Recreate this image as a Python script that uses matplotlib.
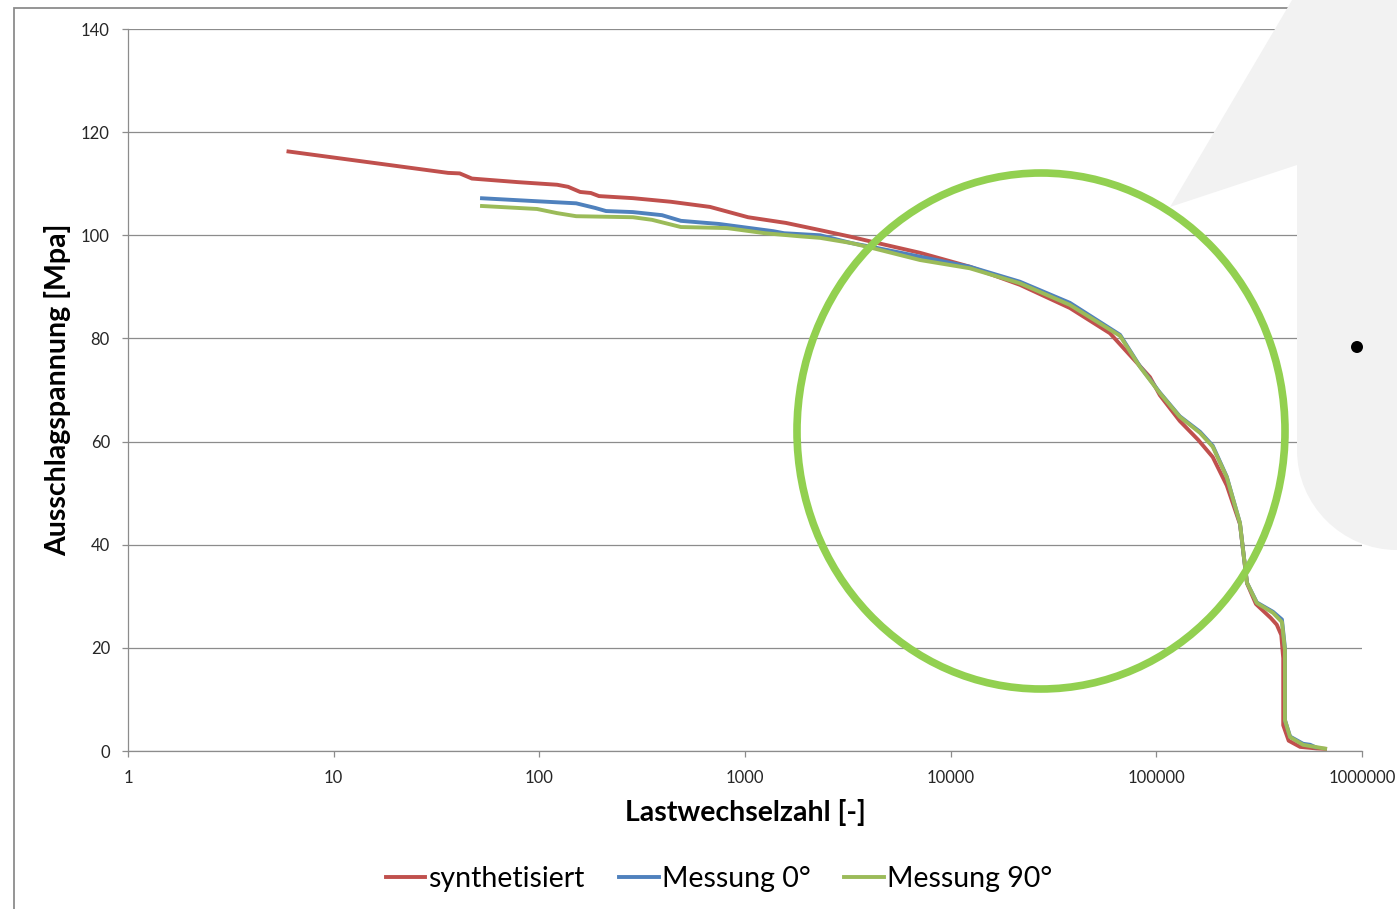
import matplotlib
matplotlib.use("Agg")
import matplotlib.pyplot as plt
from matplotlib.patches import Ellipse, PathPatch
from matplotlib.path import Path
from matplotlib.lines import Line2D
from matplotlib.ticker import FixedLocator, NullLocator, FixedFormatter

# ---------------- data ----------------
N_syn = [5.9, 36, 41, 47, 79, 122, 138, 158, 178, 195, 285, 436, 676, 1035, 1580,
         2320, 3280, 4190, 7100, 12400, 21700, 38000, 59500, 93100, 104000, 130000,
         160000, 188000, 220000, 255000, 264000, 276000, 305000, 360000, 385000,
         405000, 414000, 414000, 440000, 500000, 600000, 676000]
S_syn = [116.3, 112.1, 112.0, 111.0, 110.3, 109.8, 109.4, 108.4, 108.2, 107.6, 107.2,
         106.5, 105.5, 103.5, 102.4, 101.0, 99.7, 98.7, 96.6, 93.9, 90.4, 85.9, 81.0,
         72.5, 69.0, 64.0, 60.3, 57.0, 51.5, 44.0, 39.0, 32.5, 28.5, 25.8, 24.5, 22.5,
         18.0, 5.0, 2.0, 0.8, 0.5, 0.4]

N_0 = [51.5, 97.5, 151, 187, 211, 285, 395, 488, 746, 1370, 1550, 2320, 3280, 4190,
       12400, 21700, 38000, 66600, 83200, 104000, 130000, 163000, 188000, 220000,
       255000, 264000, 276000, 308000, 369000, 408000, 422000, 422000, 447000,
       517000, 560000, 604000]
S_0 = [107.2, 106.6, 106.2, 105.3, 104.7, 104.5, 103.9, 102.8, 102.2, 100.8, 100.4,
       100.0, 98.5, 97.7, 93.9, 91.0, 86.9, 80.7, 74.6, 69.5, 64.9, 61.9, 59.2, 53.2,
       44.2, 39.0, 32.6, 28.8, 27.0, 25.5, 20.0, 6.0, 2.8, 1.4, 1.2, 0.6]

N_90 = [51.5, 97.5, 122, 151, 285, 353, 488, 817, 1250, 1850, 2320, 3280, 4190, 7100,
        12400, 21700, 38000, 66600, 83200, 104000, 130000, 163000, 188000, 220000,
        255000, 264000, 276000, 308000, 369000, 408000, 422000, 422000, 447000,
        517000, 676000]
S_90 = [105.7, 105.1, 104.3, 103.7, 103.5, 103.0, 101.6, 101.4, 100.4, 99.8, 99.5,
        98.5, 97.5, 95.2, 93.6, 90.7, 86.5, 80.5, 74.5, 69.4, 64.8, 61.7, 59.0, 53.1,
        44.2, 39.0, 32.6, 28.7, 26.8, 25.0, 19.6, 6.0, 2.7, 1.2, 0.4]

series_names = ["synthetisiert", "Messung 0°", "Messung 90°"]
x_ticks = [1, 10, 100, 1000, 10000, 100000, 1000000]
x_tick_labels = ["1", "10", "100", "1000", "10000", "100000", "1000000"]
y_ticks = [0, 20, 40, 60, 80, 100, 120, 140]
x_label = "Lastwechselzahl [-]"
y_label = "Ausschlagspannung [Mpa]"

# ---------------- figure ----------------
W, H = 1397, 909
plt.rcParams['font.family'] = ['Lato', 'DejaVu Sans']
fig = plt.figure(figsize=(W / 100, H / 100), dpi=100)

def fx(px):
    return px / W

def fy(py):
    return 1 - py / H

GRID = '#8c8c8c'
ax = fig.add_axes([fx(128), fy(751), fx(1362) - fx(128), fy(29) - fy(751)])
ax.set_facecolor('none')
ax.set_xscale('log')
ax.set_xlim(1, 1000000)
ax.set_ylim(0, 140)
ax.xaxis.set_major_locator(FixedLocator(x_ticks))
ax.xaxis.set_major_formatter(FixedFormatter(x_tick_labels))
ax.xaxis.set_minor_locator(NullLocator())
ax.yaxis.set_major_locator(FixedLocator(y_ticks))
ax.grid(axis='y', color=GRID, lw=0.9)
ax.set_axisbelow(True)
for s in ['top', 'right']:
    ax.spines[s].set_visible(False)
for s in ['left', 'bottom']:
    ax.spines[s].set_color(GRID)
    ax.spines[s].set_linewidth(0.9)
ax.tick_params(direction='out', length=4, color=GRID, width=0.9,
               labelsize=12, labelcolor='#262626')
ax.tick_params(axis='x', pad=10)
ax.tick_params(axis='y', pad=9)

colors = ['#C0504D', '#4F81BD', '#9BBB59']
for N, S, c, name in zip([N_syn, N_0, N_90], [S_syn, S_0, S_90], colors, series_names):
    ax.plot(N, S, color=c, lw=2.8, label=name, solid_joinstyle='round',
            solid_capstyle='butt')

# axis titles
fig.text(fx(745), fy(813), x_label, ha='center', va='center', fontsize=20.5,
         fontweight='bold', color='black')
fig.text(fx(58), fy(390), y_label, ha='center', va='center', fontsize=20.5,
         fontweight='bold', rotation=90, color='black')

# legend
handles = [Line2D([], [], color=c, lw=2.8) for c in colors]
fig.legend(handles, series_names, loc='center', bbox_to_anchor=(fx(719), fy(879)),
           ncol=3, frameon=False, fontsize=20.5, handlelength=1.4, handletextpad=0.1,
           columnspacing=1.2)

# chart area border
border = Path([(fx(14), fy(H + 5)), (fx(14), fy(8)), (fx(W + 5), fy(8))])
fig.add_artist(PathPatch(border, transform=fig.transFigure, fill=False,
                         edgecolor='#8c8c8c', lw=1.3, zorder=0.5))

# callout shape
verts = [(1295, -5), (1170, 207), (1297, 165), (1297, 450),
         (1297, 505), (1342, 550), (1397, 550),
         (1410, 550), (1410, -5), (1295, -5)]
codes = [Path.MOVETO, Path.LINETO, Path.LINETO, Path.LINETO,
         Path.CURVE4, Path.CURVE4, Path.CURVE4,
         Path.LINETO, Path.LINETO, Path.CLOSEPOLY]
callout = Path([(fx(x), fy(y)) for x, y in verts], codes)
fig.add_artist(PathPatch(callout, transform=fig.transFigure, facecolor='#f2f2f2',
                         edgecolor='none', zorder=2))
fig.add_artist(Ellipse((fx(1357), fy(347)), 12 / W, 12 / H, transform=fig.transFigure,
                       facecolor='black', edgecolor='none', zorder=3))

# highlight circle
fig.add_artist(Ellipse((fx(1041), fy(431)), 488 / W, 516 / H, transform=fig.transFigure,
                       facecolor='none', edgecolor='#92D050', lw=5.5, zorder=3))

fig.savefig('out.png', dpi=100)
